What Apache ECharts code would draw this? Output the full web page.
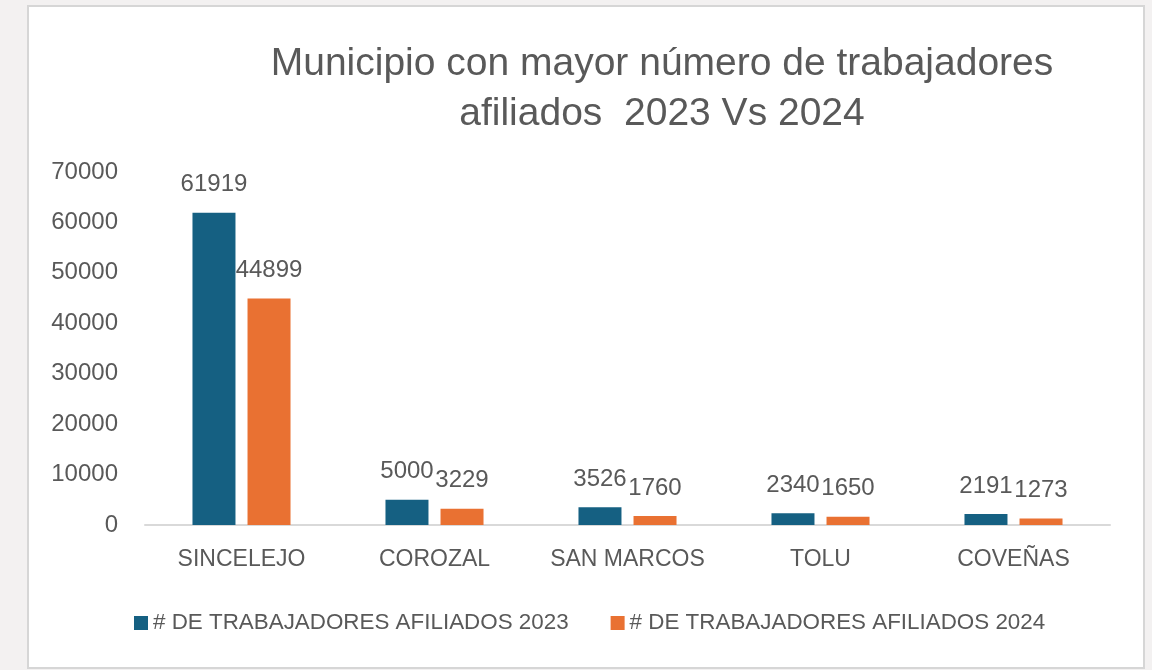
<!DOCTYPE html>
<html>
<head>
<meta charset="utf-8">
<script src="https://cdn.jsdelivr.net/npm/echarts@6/dist/echarts.min.js"></script>
<style>
  html, body { margin: 0; padding: 0; background: #f3f1f1; }
  #box { position: absolute; left: 27px; top: 5px; width: 1114px; height: 660px; background: #fff; border: 2px solid #d6d6d6; }
  #chart { position: absolute; left: 0; top: 0; width: 1152px; height: 670px; }
</style>
</head>
<body>
<div id="box"></div>
<div id="chart"></div>
<script>
// datos
var municipios = ['SINCELEJO', 'COROZAL', 'SAN MARCOS', 'TOLU', 'COVEÑAS'];
var afiliados2023 = [61919, 5000, 3526, 2340, 2191];
var afiliados2024 = [44899, 3229, 1760, 1650, 1273];
var nombres = ['# DE TRABAJADORES AFILIADOS 2023', '# DE TRABAJADORES AFILIADOS 2024'];

var fuente = '"Liberation Sans", Arial, sans-serif';
var gris = '#595959';

var myChart = echarts.init(document.getElementById('chart'));

myChart.setOption({
  textStyle: { fontFamily: fuente },
  title: {
    text: 'Municipio con mayor número de trabajadores\nafiliados  2023 Vs 2024',
    left: 657,
    top: 34,
    textAlign: 'center',
    textStyle: {
      fontFamily: fuente,
      fontSize: 39,
      fontWeight: 'normal',
      color: gris,
      lineHeight: 50
    }
  },
  legend: {
    data: nombres,
    left: 129,
    top: 607,
    itemWidth: 14,
    itemHeight: 14,
    itemGap: 42,
    icon: 'rect',
    textStyle: { fontFamily: fuente, fontSize: 22.4, color: gris }
  },
  grid: {
    left: 145,
    right: 42,
    top: 172,
    bottom: 145
  },
  xAxis: {
    type: 'category',
    data: municipios,
    axisLine: { lineStyle: { color: '#d9d9d9', width: 2 } },
    axisTick: { show: false },
    axisLabel: { interval: 0, fontFamily: fuente, fontSize: 23, color: gris, margin: 23 }
  },
  yAxis: {
    type: 'value',
    min: 0,
    max: 70000,
    interval: 10000,
    splitLine: { show: false },
    axisLine: { show: false },
    axisLabel: {
      formatter: function (v) { return String(v); },
      fontFamily: fuente, fontSize: 24, color: gris, margin: 27
    }
  },
  series: [
    {
      name: nombres[0],
      type: 'bar',
      data: afiliados2023,
      barWidth: 43,
      barGap: '28%',
      itemStyle: { color: '#156082' },
      label: { show: true, position: 'top', distance: 16, fontFamily: fuente, fontSize: 24, color: gris }
    },
    {
      name: nombres[1],
      type: 'bar',
      data: afiliados2024,
      barWidth: 43,
      itemStyle: { color: '#e97132' },
      label: { show: true, position: 'top', distance: 16, fontFamily: fuente, fontSize: 24, color: gris }
    }
  ]
});
</script>
</body>
</html>
